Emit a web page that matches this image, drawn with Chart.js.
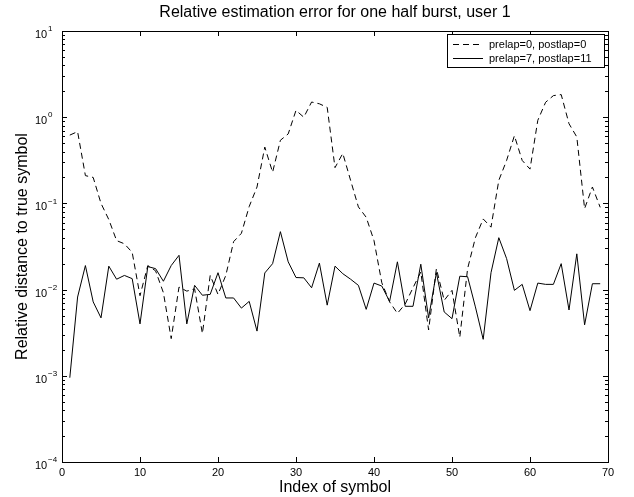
<!DOCTYPE html>
<html>
<head>
<meta charset="utf-8">
<script src="https://cdn.jsdelivr.net/npm/chart.js@4/dist/chart.umd.min.js"></script>
<style>
  html, body { margin: 0; padding: 0; background: #fff; }
  canvas { display: block; }
</style>
</head>
<body>
<canvas id="myChart" width="634" height="497"></canvas>
<script>
// Data
var symbolIndex = [1,2,3,4,5,6,7,8,9,10,11,12,13,14,15,16,17,18,19,20,21,22,23,24,25,26,27,28,29,30,
    31,32,33,34,35,36,37,38,39,40,41,42,43,44,45,46,47,48,49,50,51,52,53,54,55,56,57,58,59,60,
    61,62,63,64,65,66,67,68,69];

// prelap=0, postlap=0 (dashed)
var errNoLap = [0.62,0.68,0.21,0.20,0.10,0.065,0.037,0.034,0.027,0.0085,
    0.019,0.0165,0.0092,0.0027,0.0107,0.0096,0.0102,0.0031,0.0146,0.0088,
    0.0146,0.036,0.045,0.092,0.155,0.45,0.23,0.54,0.64,1.2,
    1.0,1.5,1.43,1.3,0.26,0.38,0.185,0.091,0.069,0.037,
    0.012,0.0072,0.0053,0.0068,0.0105,0.016,0.0034,0.0175,0.0075,0.0098,
    0.0028,0.0175,0.04,0.066,0.053,0.185,0.315,0.61,0.315,0.25,
    0.92,1.49,1.78,1.83,0.84,0.59,0.087,0.155,0.09];

// prelap=7, postlap=11 (solid)
var errLap = [0.00095,0.0082,0.019,0.0072,0.0047,0.0187,0.0132,0.0146,0.0134,0.0040,
    0.0185,0.0175,0.0125,0.019,0.025,0.0040,0.0112,0.0086,0.0088,0.0157,
    0.0080,0.0080,0.0061,0.0073,0.0033,0.0156,0.020,0.047,0.021,0.0138,
    0.0137,0.0105,0.0203,0.0066,0.0187,0.0153,0.0132,0.0112,0.0059,0.0119,
    0.011,0.0073,0.021,0.0064,0.0064,0.0197,0.0047,0.0157,0.0055,0.0046,
    0.0143,0.0141,0.0063,0.00265,0.0157,0.040,0.0229,0.0098,0.0115,0.0057,
    0.0119,0.0115,0.0115,0.020,0.0058,0.026,0.0039,0.0117,0.0117];

var seriesNames = ['prelap=0, postlap=0', 'prelap=7, postlap=11'];
var xTicks = [0, 10, 20, 30, 40, 50, 60, 70];
var yExponents = [1, 0, -1, -2, -3, -4];

var chartTitle = 'Relative estimation error for one half burst, user 1';
var xTitle = 'Index of symbol';
var yTitle = 'Relative distance to true symbol';

var FONT = '"Liberation Sans", Arial, Helvetica, sans-serif';
var dashPattern = [6, 4];

function toPoints(ys){
    return symbolIndex.map(function(x, i){ return {x: x, y: ys[i]}; });
}

// MATLAB-ish box, inside ticks, labels and legend
var matlabAxes = {
    id: 'matlabAxes',
    afterDraw: function(chart){
        var ctx = chart.ctx;
        var a = chart.chartArea;
        var xs = chart.scales.x, ys = chart.scales.y;
        ctx.save();
        ctx.strokeStyle = '#000';
        ctx.fillStyle = '#000';
        ctx.lineWidth = 1;

        // box
        ctx.strokeRect(Math.round(a.left) + 0.5, Math.round(a.top) + 0.5,
            Math.round(a.right - a.left), Math.round(a.bottom - a.top));

        ctx.beginPath();
        // x ticks, bottom and top
        xTicks.forEach(function(v){
            var px = Math.round(xs.getPixelForValue(v)) + 0.5;
            ctx.moveTo(px, a.bottom); ctx.lineTo(px, a.bottom - 5);
            ctx.moveTo(px, a.top); ctx.lineTo(px, a.top + 5);
        });
        // y ticks with minor ones
        yExponents.forEach(function(e){
            for (var m = 1; m <= 9; m++){
                var val = m * Math.pow(10, e);
                if (val > 10 || val < 1e-4) continue;
                var py = Math.round(ys.getPixelForValue(val)) + 0.5;
                var len = (m === 1) ? 5 : 3;
                ctx.moveTo(a.left, py); ctx.lineTo(a.left + len, py);
                ctx.moveTo(a.right, py); ctx.lineTo(a.right - len, py);
            }
        });
        ctx.stroke();

        // x tick labels
        ctx.font = '11px ' + FONT;
        ctx.textAlign = 'center';
        ctx.textBaseline = 'middle';
        xTicks.forEach(function(v){
            ctx.fillText(String(v), xs.getPixelForValue(v), a.bottom + 11);
        });

        // y tick labels: 10 with superscript exponent
        yExponents.forEach(function(e){
            var py = ys.getPixelForValue(Math.pow(10, e));
            ctx.textAlign = 'left';
            ctx.font = '11px ' + FONT;
            ctx.fillText('10', 35, py + 4);
            ctx.font = '8px ' + FONT;
            ctx.fillText(e < 0 ? '\u2212' + (-e) : String(e), 48, py - 2);
        });

        // titles
        ctx.textAlign = 'center';
        ctx.font = '16px ' + FONT;
        ctx.fillText(chartTitle, (a.left + a.right) / 2, 13);
        ctx.fillText(xTitle, (a.left + a.right) / 2, 488);
        ctx.save();
        ctx.translate(23, (a.top + a.bottom) / 2);
        ctx.rotate(-Math.PI / 2);
        ctx.fillText(yTitle, 0, 0);
        ctx.restore();

        // legend
        var lx = 447, ly = 34, lw = 157, lh = 33;
        ctx.fillStyle = '#fff';
        ctx.fillRect(lx, ly, lw, lh);
        ctx.fillStyle = '#000';
        ctx.strokeRect(lx + 0.5, ly + 0.5, lw, lh);
        ctx.font = '11px ' + FONT;
        ctx.textAlign = 'left';
        chart.data.datasets.forEach(function(ds, i){
            var ry = ly + 10 + i * 14 + 0.5;
            ctx.beginPath();
            ctx.setLineDash(ds.borderDash || []);
            ctx.moveTo(lx + 6, ry); ctx.lineTo(lx + 36, ry);
            ctx.stroke();
            ctx.setLineDash([]);
            ctx.fillText(ds.label, lx + 42, ry);
        });
        ctx.restore();
    }
};

var myChart = new Chart(document.getElementById('myChart'), {
    type: 'line',
    data: {
        datasets: [{
            label: seriesNames[0],
            data: toPoints(errNoLap),
            borderColor: '#000',
            borderWidth: 1,
            borderDash: dashPattern,
            pointRadius: 0,
            tension: 0,
            fill: false
        }, {
            label: seriesNames[1],
            data: toPoints(errLap),
            borderColor: '#000',
            borderWidth: 1,
            pointRadius: 0,
            tension: 0,
            fill: false
        }]
    },
    options: {
        responsive: false,
        animation: false,
        devicePixelRatio: 1,
        layout: { padding: { left: 62, top: 31, right: 26, bottom: 35 } },
        plugins: {
            legend: { display: false },
            title: { display: false },
            tooltip: { enabled: false }
        },
        scales: {
            x: { type: 'linear', min: 0, max: 70, display: false },
            y: { type: 'logarithmic', min: 1e-4, max: 10, display: false }
        }
    },
    plugins: [matlabAxes]
});
</script>
</body>
</html>
